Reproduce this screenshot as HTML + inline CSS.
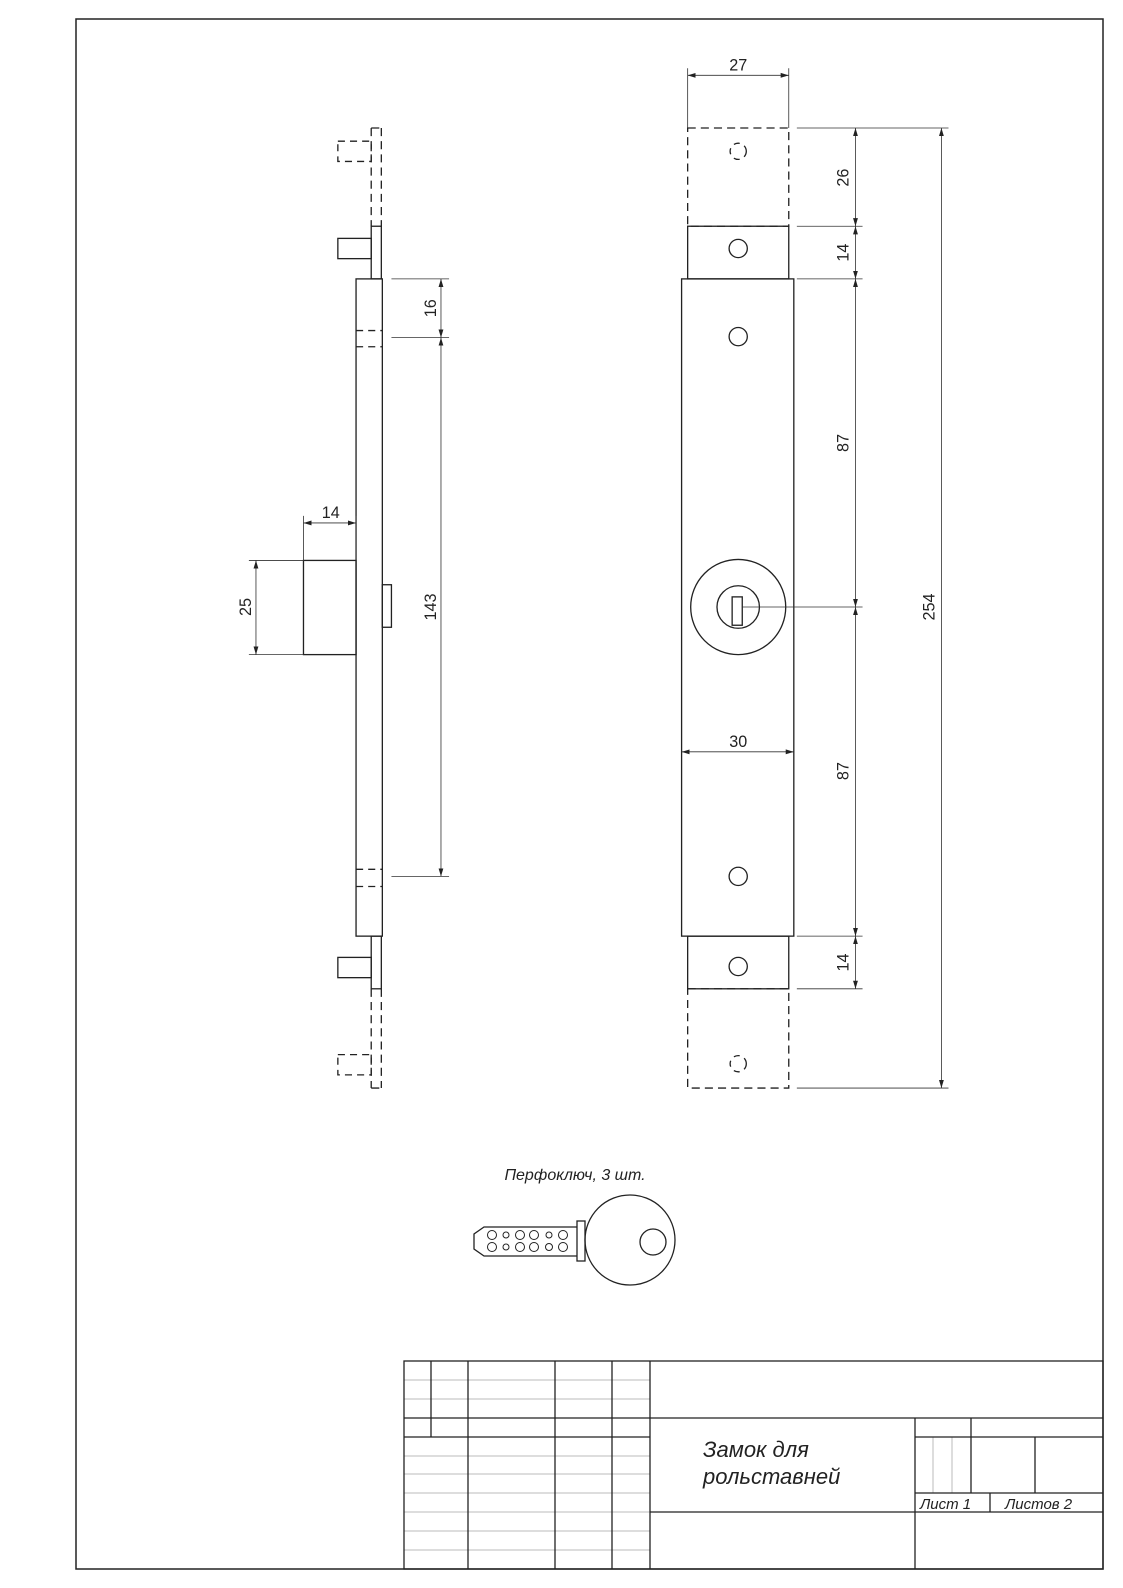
<!DOCTYPE html>
<html><head><meta charset="utf-8"><style>
html,body{margin:0;padding:0;background:#fff;overflow:hidden;width:1123px;height:1588px}
svg{display:block}
text{font-family:"Liberation Sans","DejaVu Sans",sans-serif;fill:#222}
</style></head><body>
<svg width="1123" height="1588" viewBox="0 0 1123 1588" xmlns="http://www.w3.org/2000/svg">
<defs>
<marker id="a" viewBox="0 0 10 10" refX="10" refY="5" markerWidth="10" markerHeight="10" orient="auto-start-reverse"><path d="M0,2 L10,5 L0,8 z" fill="#222"/></marker>
</defs>
<rect x="76" y="19" width="1027" height="1550" fill="none" stroke="#222" stroke-width="1.5"/>
<g transform="matrix(1.011,0,0,1.0127,1.19,-0.61)">
<g fill="none" stroke="#222" stroke-width="1.3">
<!-- side view -->
<path d="M366 127 V224 M376 127 V224 M366 127 H376 M366 977 V1075 M376 977 V1075 M366 1075 H376" stroke-dasharray="8,5"/>
<rect x="366" y="224" width="10" height="52"/>
<rect x="366" y="925" width="10" height="52"/>
<rect x="333" y="236" width="33" height="20"/>
<rect x="333" y="946" width="33" height="20"/>
<rect x="333" y="140" width="33" height="20" stroke-dasharray="7,5"/>
<rect x="333" y="1042" width="33" height="20" stroke-dasharray="7,5"/>
<rect x="351" y="276" width="26" height="649"/>
<path d="M351 327 H377 M351 343 H377 M351 859 H377 M351 876 H377" stroke-dasharray="7,5"/>
<rect x="299" y="554" width="52" height="93"/>
<rect x="377" y="578" width="9" height="42"/>
<!-- front view -->
<rect x="679" y="127" width="100" height="97" stroke-dasharray="8,5"/>
<rect x="679" y="977" width="100" height="98" stroke-dasharray="8,5"/>
<rect x="679" y="224" width="100" height="52"/>
<rect x="679" y="925" width="100" height="52"/>
<rect x="673" y="276" width="111" height="649"/>
<circle cx="729" cy="246" r="9"/><circle cx="729" cy="333" r="9"/>
<circle cx="729" cy="866" r="9"/><circle cx="729" cy="955" r="9"/>
<circle cx="729" cy="150" r="8" stroke-dasharray="6,5"/>
<circle cx="729" cy="1051" r="8" stroke-dasharray="6,5"/>
<circle cx="729" cy="600" r="47"/><circle cx="729" cy="600" r="21"/>
<rect x="723" y="590" width="10" height="28"/>
</g>
<!-- dimensions -->
<g fill="none" stroke="#333" stroke-width="0.8">
<path d="M386 276 H443 M386 334 H443 M386 866 H443"/>
<path d="M435 276 V334" marker-start="url(#a)" marker-end="url(#a)"/>
<path d="M435 334 V866" marker-start="url(#a)" marker-end="url(#a)"/>
<path d="M299 510 V554 M351 510 V554"/>
<path d="M299 517 H351" marker-start="url(#a)" marker-end="url(#a)"/>
<path d="M245 554 H299 M245 647 H299"/>
<path d="M252 554 V647" marker-start="url(#a)" marker-end="url(#a)"/>
<path d="M679 68 V127 M779 68 V127"/>
<path d="M679 75 H779" marker-start="url(#a)" marker-end="url(#a)"/>
<path d="M787 127 H937 M787 224 H852 M787 276 H852 M733 600 H852 M787 925 H852 M787 977 H852 M787 1075 H937"/>
<path d="M845 127 V224" marker-start="url(#a)" marker-end="url(#a)"/>
<path d="M845 224 V276" marker-start="url(#a)" marker-end="url(#a)"/>
<path d="M845 276 V600" marker-start="url(#a)" marker-end="url(#a)"/>
<path d="M845 600 V925" marker-start="url(#a)" marker-end="url(#a)"/>
<path d="M845 925 V977" marker-start="url(#a)" marker-end="url(#a)"/>
<path d="M930 127 V1075" marker-start="url(#a)" marker-end="url(#a)"/>
<path d="M673 743 H784" marker-start="url(#a)" marker-end="url(#a)"/>
</g>
<g font-size="16" text-anchor="middle">
<text x="729" y="70">27</text>
<text x="326" y="512">14</text>
<text x="729" y="738">30</text>
<text transform="translate(430,305) rotate(-90)">16</text>
<text transform="translate(430,600) rotate(-90)">143</text>
<text transform="translate(247,600) rotate(-90)">25</text>
<text transform="translate(838,176) rotate(-90)">26</text>
<text transform="translate(838,250) rotate(-90)">14</text>
<text transform="translate(838,438) rotate(-90)">87</text>
<text transform="translate(838,762) rotate(-90)">87</text>
<text transform="translate(838,951) rotate(-90)">14</text>
<text transform="translate(923,600) rotate(-90)">254</text>
</g>
</g>
<!-- key -->
<text x="575" y="1180" font-size="16" font-style="italic" text-anchor="middle">Перфоключ, 3 шт.</text>
<g fill="none" stroke="#222" stroke-width="1.3">
<path d="M577 1227 H484 L474 1234 V1249 L484 1256 H577"/>
<rect x="577" y="1221" width="8" height="40"/>
<circle cx="630" cy="1240" r="45"/>
<circle cx="653" cy="1242" r="13"/>
<g stroke-width="1">
<circle cx="492" cy="1235" r="4.5"/><circle cx="506" cy="1235" r="3"/><circle cx="520" cy="1235" r="4.5"/><circle cx="534" cy="1235" r="4.5"/><circle cx="549" cy="1235" r="3"/><circle cx="563" cy="1235" r="4.5"/>
<circle cx="492" cy="1247" r="4.5"/><circle cx="506" cy="1247" r="3"/><circle cx="520" cy="1247" r="4.5"/><circle cx="534" cy="1247" r="4.5"/><circle cx="549" cy="1247" r="3.5"/><circle cx="563" cy="1247" r="4.5"/>
</g>
</g>
<!-- title block -->
<g fill="none" stroke="#bbb" stroke-width="1">
<path d="M404 1380 H650 M404 1399 H650"/>
<path d="M404 1456 H650 M404 1474 H650 M404 1493 H650 M404 1512 H650 M404 1531 H650 M404 1550 H650"/>
<path d="M933 1437 V1493 M952 1437 V1493"/>
</g>
<g fill="none" stroke="#222" stroke-width="1.3">
<rect x="404" y="1361" width="699" height="208"/>
<path d="M404 1418 H1103 M404 1437 H650 M915 1437 H1103"/>
<path d="M431 1361 V1437 M468 1361 V1569 M555 1361 V1569 M612 1361 V1569 M650 1361 V1569"/>
<path d="M915 1418 V1569 M971 1418 V1493 M1035 1437 V1493 M915 1493 H1103 M650 1512 H1103 M990 1493 V1512"/>
</g>
<g font-style="italic">
<text x="703" y="1457" font-size="22">Замок для</text>
<text x="703" y="1484" font-size="22">рольставней</text>
<text x="920" y="1509" font-size="15">Лист 1</text>
<text x="1005" y="1509" font-size="15">Листов 2</text>
</g>
</svg>
</body></html>
